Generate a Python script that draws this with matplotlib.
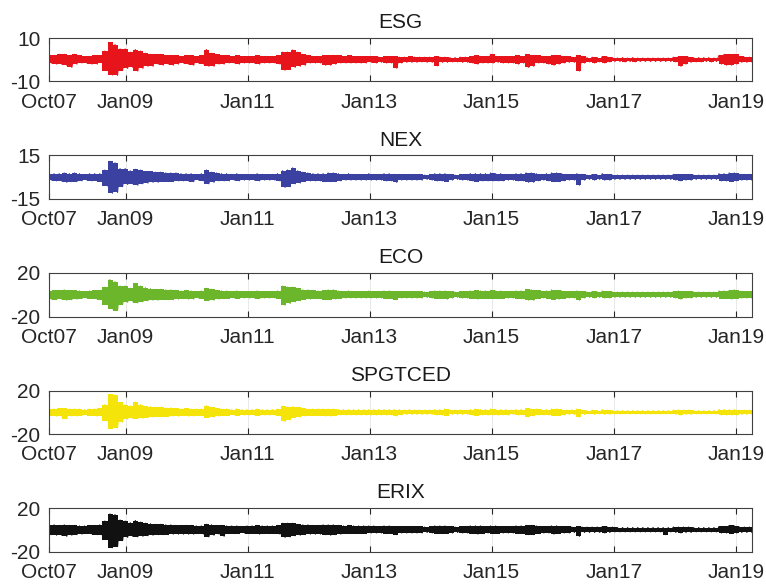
import numpy as np
import pandas as pd
import matplotlib
matplotlib.use("Agg")
from matplotlib import pyplot as plt
import matplotlib.dates as mdates

plt.rcParams['font.family'] = ['Liberation Sans', 'DejaVu Sans']
plt.rcParams['axes.unicode_minus'] = False

# monthly upper / lower extremes of daily returns (%), Oct 2007 .. Apr 2019
# one row per year: 2007 (Oct-Dec), 2008 ... 2018, 2019 (Jan-Apr)
esg_hi = [2.0, 2.0, 2.5,
          2.5, 2.0, 2.5, 2.0, 1.5, 1.5, 2.0, 2.0, 4.0, 8.0, 7.0, 5.0,
          5.0, 3.5, 4.7, 4.0, 3.0, 2.5, 2.5, 2.5, 2.0, 2.0, 2.0, 1.5,
          2.0, 2.0, 1.5, 2.0, 4.7, 3.0, 2.5, 2.0, 2.0, 1.5, 2.0, 1.5,
          1.5, 1.5, 2.0, 1.5, 1.5, 1.5, 2.0, 3.5, 3.5, 4.5, 3.5, 2.5,
          2.0, 1.5, 1.5, 2.0, 2.0, 2.0, 2.0, 1.5, 2.0, 1.5, 1.5, 1.5,
          1.5, 1.5, 1.2, 1.5, 1.5, 1.5, 1.2, 1.2, 1.5, 1.2, 1.2, 1.2,
          1.2, 1.5, 1.2, 1.2, 1.0, 1.0, 1.2, 1.2, 1.5, 2.0, 1.5, 1.5,
          2.5, 1.5, 1.5, 1.5, 1.5, 2.0, 1.5, 2.5, 2.0, 2.0, 1.5, 1.5,
          2.0, 2.0, 1.5, 1.5, 1.2, 2.0, 1.5, 1.0, 1.2, 1.0, 1.5, 1.2,
          1.0, 0.8, 1.0, 0.8, 1.0, 0.8, 0.8, 0.8, 0.8, 0.8, 0.8, 0.8,
          1.2, 1.5, 1.5, 1.2, 1.0, 1.0, 1.0, 1.0, 0.8, 2.0, 2.5, 2.5,
          2.5, 1.5, 1.2, 1.2]
esg_lo = [-1.5, -2.0, -2.0,
          -2.5, -3.5, -2.0, -1.5, -1.5, -2.0, -2.0, -1.5, -5.0, -7.0, -7.2, -5.0,
          -4.0, -3.5, -5.2, -4.0, -3.0, -3.0, -2.0, -2.5, -2.0, -2.5, -2.0, -1.5,
          -2.0, -2.5, -1.5, -2.0, -3.0, -3.0, -2.0, -2.0, -1.5, -1.5, -2.0, -1.5,
          -1.5, -1.5, -2.0, -1.5, -1.5, -1.5, -2.0, -4.8, -4.5, -3.5, -3.0, -2.5,
          -1.5, -1.5, -1.5, -2.5, -2.5, -2.0, -1.5, -1.5, -1.5, -1.5, -1.5, -1.5,
          -1.2, -1.5, -1.2, -1.5, -1.5, -3.9, -1.5, -1.2, -1.2, -1.2, -1.0, -1.2,
          -1.2, -2.8, -1.2, -1.2, -1.0, -1.0, -1.2, -1.2, -1.5, -2.0, -1.5, -1.5,
          -1.5, -1.2, -1.5, -1.5, -1.5, -2.0, -1.5, -3.5, -3.0, -1.5, -1.5, -2.0,
          -2.5, -2.0, -1.5, -1.2, -1.2, -5.2, -1.5, -1.0, -1.5, -1.0, -1.5, -1.0,
          -0.8, -0.8, -1.0, -0.8, -1.0, -0.8, -0.8, -0.8, -0.8, -0.8, -0.8, -0.8,
          -1.0, -3.0, -2.0, -1.2, -1.0, -1.0, -0.8, -1.0, -0.8, -2.0, -2.5, -2.5,
          -2.0, -1.2, -1.2, -1.0]

nex_hi = [2.0, 2.5, 2.5,
          3.0, 2.5, 3.0, 2.5, 2.0, 2.5, 2.5, 2.5, 5.0, 11.0, 10.0, 6.0,
          6.0, 4.5, 5.5, 5.0, 4.0, 4.0, 3.5, 3.5, 3.0, 3.0, 3.0, 2.5,
          2.5, 2.5, 2.0, 2.5, 5.0, 3.5, 3.0, 2.5, 2.5, 2.0, 2.5, 2.0,
          2.0, 2.0, 2.5, 2.0, 2.0, 2.0, 2.5, 4.5, 5.0, 6.5, 4.5, 3.5,
          3.0, 2.5, 2.5, 2.5, 3.0, 3.0, 2.5, 2.0, 2.5, 2.0, 2.0, 2.0,
          2.5, 2.0, 2.0, 2.5, 2.5, 2.0, 2.0, 2.0, 2.0, 2.0, 2.0, 1.5,
          2.0, 2.5, 2.5, 2.5, 2.0, 1.5, 2.0, 2.0, 2.5, 2.5, 2.5, 2.5,
          3.0, 2.5, 2.5, 2.0, 2.0, 2.5, 2.5, 3.0, 3.0, 2.5, 2.0, 2.5,
          3.0, 3.0, 2.5, 2.0, 2.0, 2.5, 2.0, 1.5, 2.0, 1.5, 2.5, 2.0,
          1.5, 1.5, 1.5, 1.5, 1.5, 1.5, 1.5, 1.5, 1.5, 1.5, 1.5, 1.5,
          2.0, 2.0, 2.0, 2.0, 1.5, 1.5, 1.5, 1.5, 1.5, 2.5, 2.5, 3.0,
          3.0, 2.0, 2.0, 2.0]
nex_lo = [-2.0, -2.5, -2.5,
          -3.5, -3.0, -3.0, -2.5, -2.0, -2.5, -2.5, -3.0, -6.0, -11.0, -10.5, -6.5,
          -5.0, -4.5, -5.5, -4.5, -4.0, -3.5, -3.5, -3.0, -3.0, -3.0, -2.5, -2.5,
          -2.5, -3.0, -2.0, -2.5, -4.5, -3.5, -2.5, -2.5, -2.5, -2.0, -2.5, -2.0,
          -2.0, -2.0, -2.5, -2.0, -2.0, -2.0, -2.5, -7.0, -6.5, -4.5, -4.0, -3.0,
          -2.5, -2.5, -2.5, -3.0, -3.0, -3.0, -2.5, -2.0, -2.0, -2.0, -2.0, -2.0,
          -2.0, -2.0, -2.0, -2.5, -2.5, -3.5, -2.0, -2.0, -2.0, -2.0, -2.0, -1.5,
          -2.0, -2.5, -2.5, -3.0, -2.0, -1.5, -2.0, -2.0, -2.5, -3.0, -2.5, -2.5,
          -2.5, -2.5, -2.5, -2.0, -2.0, -2.5, -2.5, -3.5, -3.5, -2.5, -2.0, -2.5,
          -3.0, -3.0, -2.5, -2.0, -2.0, -5.5, -2.0, -1.5, -2.0, -1.5, -2.0, -2.0,
          -1.5, -1.5, -1.5, -1.5, -1.5, -1.5, -1.5, -1.5, -1.5, -1.5, -1.5, -1.5,
          -2.0, -2.5, -2.0, -2.0, -1.5, -1.5, -1.5, -1.5, -1.5, -2.5, -2.5, -3.0,
          -2.5, -2.0, -2.0, -2.0]

eco_hi = [3.5, 4.0, 4.0,
          4.5, 4.0, 4.0, 3.5, 3.0, 3.5, 4.0, 4.0, 7.0, 14.0, 12.0, 8.0,
          8.0, 6.0, 10.5, 8.0, 6.5, 5.5, 5.0, 5.0, 4.5, 4.5, 4.0, 3.5,
          4.0, 3.5, 3.0, 3.5, 6.0, 5.0, 4.0, 3.5, 3.5, 3.0, 3.5, 3.0,
          3.0, 3.0, 3.5, 3.0, 3.0, 3.0, 3.5, 8.0, 7.0, 7.0, 6.0, 4.5,
          4.5, 4.0, 3.5, 4.0, 4.5, 4.5, 3.5, 3.0, 3.5, 3.0, 3.0, 3.0,
          3.5, 3.0, 3.0, 3.5, 3.5, 3.0, 3.0, 3.0, 3.0, 3.0, 3.0, 2.5,
          3.0, 3.5, 3.5, 3.5, 3.0, 2.5, 3.0, 3.0, 3.5, 4.0, 3.5, 3.5,
          4.0, 3.5, 3.5, 3.0, 3.0, 3.5, 3.5, 5.0, 4.5, 4.0, 3.0, 3.5,
          4.5, 4.0, 3.5, 3.0, 3.0, 3.5, 3.0, 2.5, 3.0, 2.5, 3.5, 3.0,
          2.5, 2.5, 2.5, 2.5, 2.5, 2.5, 2.5, 2.5, 2.5, 2.5, 2.5, 2.5,
          3.0, 3.5, 3.0, 3.0, 2.5, 2.5, 2.5, 2.5, 2.5, 3.5, 3.5, 4.0,
          4.5, 3.0, 3.0, 3.0]
eco_lo = [-4.0, -4.5, -4.0,
          -5.0, -4.5, -4.0, -3.5, -3.0, -3.5, -4.0, -4.5, -9.0, -13.0, -14.5, -9.0,
          -7.0, -6.0, -7.5, -6.5, -5.5, -5.0, -5.0, -4.5, -4.5, -4.5, -4.0, -3.5,
          -4.0, -4.0, -3.0, -3.5, -5.5, -5.0, -4.0, -3.5, -3.5, -3.0, -3.5, -3.0,
          -3.0, -3.0, -3.5, -3.0, -3.0, -3.0, -3.5, -9.5, -8.0, -6.5, -5.5, -4.5,
          -4.0, -3.5, -3.5, -4.5, -4.5, -4.0, -3.5, -3.0, -3.0, -3.0, -3.0, -3.0,
          -3.0, -3.0, -3.0, -3.5, -3.5, -4.5, -3.0, -3.0, -3.0, -3.0, -3.0, -2.5,
          -3.0, -3.5, -3.5, -4.0, -3.0, -2.5, -3.0, -3.0, -3.5, -4.0, -3.5, -3.5,
          -3.5, -3.5, -3.5, -3.0, -3.0, -3.5, -3.5, -5.0, -5.0, -3.5, -3.0, -3.5,
          -4.5, -4.0, -3.5, -3.0, -3.0, -5.0, -3.0, -2.5, -3.0, -2.5, -3.0, -3.0,
          -2.5, -2.5, -2.5, -2.5, -2.5, -2.5, -2.5, -2.5, -2.5, -2.5, -2.5, -2.5,
          -3.0, -4.0, -3.0, -3.0, -2.5, -2.5, -2.5, -2.5, -2.5, -3.5, -3.5, -4.0,
          -3.5, -3.0, -3.0, -3.0]

spg_hi = [3.0, 3.0, 3.5,
          3.5, 3.0, 3.0, 3.0, 2.5, 3.0, 3.0, 3.5, 7.0, 16.5, 16.0, 9.0,
          7.0, 6.0, 9.5, 7.0, 5.5, 5.0, 4.5, 4.5, 4.0, 4.0, 3.5, 3.0,
          3.5, 3.0, 3.0, 3.0, 6.0, 4.5, 3.5, 3.0, 3.0, 2.5, 3.0, 2.5,
          2.5, 2.5, 3.0, 2.5, 2.5, 2.5, 3.0, 5.5, 5.0, 5.0, 4.5, 3.5,
          3.0, 3.0, 3.0, 3.0, 3.0, 3.0, 2.5, 2.5, 2.5, 2.5, 2.5, 2.5,
          2.5, 2.5, 2.5, 2.5, 2.5, 2.5, 2.5, 2.0, 2.5, 2.0, 2.0, 2.0,
          2.0, 2.5, 2.5, 3.0, 2.0, 2.0, 2.0, 2.0, 2.5, 3.0, 2.5, 2.5,
          3.0, 2.5, 2.5, 2.5, 2.0, 2.5, 2.5, 3.5, 3.0, 3.0, 2.5, 2.5,
          3.0, 3.0, 2.5, 2.0, 2.0, 3.0, 2.0, 1.5, 2.0, 1.5, 2.5, 2.0,
          1.5, 1.5, 1.5, 1.5, 1.5, 1.5, 1.5, 1.5, 1.5, 1.5, 1.5, 1.5,
          2.0, 2.0, 2.0, 2.0, 1.5, 1.5, 1.5, 1.5, 1.5, 2.5, 2.5, 2.5,
          2.5, 2.0, 2.0, 2.0]
spg_lo = [-3.0, -3.5, -3.5,
          -6.0, -3.5, -3.5, -3.0, -2.5, -3.0, -3.5, -3.5, -8.0, -15.0, -14.5, -9.0,
          -6.5, -5.5, -6.0, -5.5, -5.0, -4.5, -4.0, -4.0, -4.0, -3.5, -3.5, -3.0,
          -3.5, -3.5, -3.0, -3.0, -5.0, -4.5, -3.5, -3.0, -3.0, -2.5, -3.0, -2.5,
          -2.5, -2.5, -3.0, -2.5, -2.5, -2.5, -3.0, -8.5, -7.0, -5.0, -4.5, -3.5,
          -3.0, -3.0, -3.0, -3.5, -3.5, -3.0, -2.5, -2.5, -2.5, -2.5, -2.5, -2.5,
          -2.5, -2.5, -2.5, -2.5, -2.5, -3.5, -2.5, -2.0, -2.0, -2.0, -2.0, -2.0,
          -2.0, -2.5, -2.5, -3.0, -2.0, -2.0, -2.0, -2.0, -2.5, -3.0, -2.5, -2.5,
          -2.5, -2.5, -2.5, -2.5, -2.0, -2.5, -2.5, -4.0, -3.5, -2.5, -2.5, -2.5,
          -3.0, -3.0, -2.5, -2.0, -2.0, -4.5, -2.0, -1.5, -2.0, -1.5, -2.0, -2.0,
          -1.5, -1.5, -1.5, -1.5, -1.5, -1.5, -1.5, -1.5, -1.5, -1.5, -1.5, -1.5,
          -2.0, -2.5, -2.0, -2.0, -1.5, -1.5, -1.5, -1.5, -1.5, -2.5, -2.5, -2.5,
          -2.5, -2.0, -2.0, -2.0]

erix_hi = [4.0, 4.5, 4.0,
           4.5, 4.0, 4.0, 3.5, 3.5, 4.0, 4.0, 4.5, 8.0, 14.5, 14.0, 9.0,
           8.0, 6.5, 8.5, 7.0, 6.0, 5.5, 5.0, 5.0, 4.5, 4.5, 4.0, 4.0,
           4.0, 4.0, 3.5, 3.5, 5.0, 4.5, 4.0, 4.0, 3.5, 3.5, 3.5, 3.0,
           3.5, 3.5, 4.0, 3.5, 3.5, 3.5, 4.0, 6.0, 6.0, 6.0, 5.0, 4.5,
           4.5, 4.0, 4.0, 4.5, 4.5, 4.5, 4.0, 3.5, 4.0, 3.5, 3.5, 3.5,
           3.5, 3.5, 3.0, 3.5, 3.5, 3.0, 3.0, 3.0, 3.0, 3.0, 3.0, 2.5,
           3.0, 3.5, 3.5, 3.5, 3.0, 2.5, 3.0, 3.0, 3.5, 3.5, 3.5, 3.0,
           3.5, 3.5, 3.0, 3.0, 3.0, 3.5, 3.5, 4.0, 4.0, 3.5, 3.0, 3.0,
           3.5, 3.5, 3.0, 3.0, 2.5, 3.0, 2.5, 2.5, 2.5, 2.5, 3.0, 2.5,
           2.5, 2.0, 2.0, 2.0, 2.0, 2.0, 2.0, 2.0, 2.0, 2.0, 2.0, 2.0,
           2.5, 2.5, 2.5, 2.5, 2.0, 2.0, 2.0, 2.0, 2.0, 3.0, 3.0, 4.0,
           3.5, 2.5, 2.5, 2.5]
erix_lo = [-4.5, -5.0, -5.0,
           -6.0, -5.0, -4.5, -4.0, -3.5, -4.0, -4.5, -5.0, -9.0, -16.5, -15.5, -10.0,
           -7.0, -6.0, -6.5, -6.0, -5.5, -5.0, -4.5, -4.5, -4.5, -4.0, -4.0, -4.0,
           -4.0, -4.0, -3.5, -4.0, -6.5, -5.0, -4.0, -6.0, -3.5, -3.5, -3.5, -3.0,
           -3.5, -3.5, -4.0, -3.5, -3.5, -3.5, -4.0, -7.0, -6.5, -5.5, -5.0, -4.5,
           -4.0, -4.0, -4.0, -4.5, -5.0, -4.5, -4.0, -3.5, -3.5, -3.5, -3.5, -3.5,
           -3.0, -3.0, -3.0, -3.5, -3.5, -4.5, -3.0, -3.0, -3.0, -3.0, -3.0, -2.5,
           -3.0, -3.5, -3.5, -3.5, -3.0, -2.5, -3.0, -3.0, -3.5, -4.0, -3.5, -3.0,
           -3.5, -3.5, -3.0, -3.0, -3.0, -3.5, -3.5, -4.5, -4.5, -3.5, -3.0, -3.0,
           -4.0, -3.5, -3.0, -3.0, -2.5, -6.0, -2.5, -2.5, -2.5, -2.5, -3.0, -2.5,
           -2.0, -2.0, -2.0, -2.0, -2.0, -2.0, -2.0, -2.0, -2.0, -2.0, -4.5, -2.0,
           -2.5, -3.0, -2.5, -2.5, -2.0, -2.0, -2.0, -2.0, -2.0, -3.0, -3.0, -3.5,
           -3.0, -2.5, -2.5, -2.5]

names = ["ESG", "NEX", "ECO", "SPGTCED", "ERIX"]
highs = [esg_hi, nex_hi, eco_hi, spg_hi, erix_hi]
lows = [esg_lo, nex_lo, eco_lo, spg_lo, erix_lo]
limits = [10, 15, 20, 20, 20]
colors = ["#e8141c", "#3a41a0", "#6cb62c", "#f5e40a", "#111111"]

start, end = pd.Timestamp("2007-10-01"), pd.Timestamp("2019-04-08")
tick_dates = [start] + [pd.Timestamp(f"{y}-01-01") for y in range(2009, 2020, 2)]

fig = plt.figure(figsize=(7.66, 5.87), dpi=100)
W, H = 766, 587
left, width, height = 49, 703, 43.5
tops = [38, 155.5, 273, 390.5, 508]

for i, name in enumerate(names):
    ax = fig.add_axes([left / W, 1 - (tops[i] + height) / H, width / W, height / H])
    months = pd.date_range(start, end, periods=len(highs[i]))
    # band between monthly extremes, plus the alternating trace on top
    ax.fill_between(months, lows[i], highs[i], step="mid", color=colors[i], lw=0)
    vals = np.column_stack([highs[i], lows[i]]).ravel()
    dates = pd.date_range(start, end, periods=len(vals))
    ax.plot(dates, vals, color=colors[i], lw=0.8)
    ax.set_xlim(start, end)
    ax.set_ylim(-limits[i], limits[i])
    ax.set_yticks([-limits[i], limits[i]])
    ax.set_xticks(tick_dates)
    ax.xaxis.set_major_formatter(mdates.DateFormatter("%b%y"))
    ax.grid(axis="x", color="#e4e4e4", lw=0.6)
    ax.set_axisbelow(True)
    ax.tick_params(axis="x", direction="in", top=True, length=4, width=0.8,
                   labelsize=15, pad=8, colors="#262626")
    ax.tick_params(axis="y", direction="in", length=0, labelsize=15, pad=6,
                   colors="#262626")
    for s in ax.spines.values():
        s.set_color("#404040")
        s.set_linewidth(0.8)
    ax.set_title(name, fontsize=15, pad=7, color="#1a1a1a")

fig.savefig("out.png", dpi=100)
